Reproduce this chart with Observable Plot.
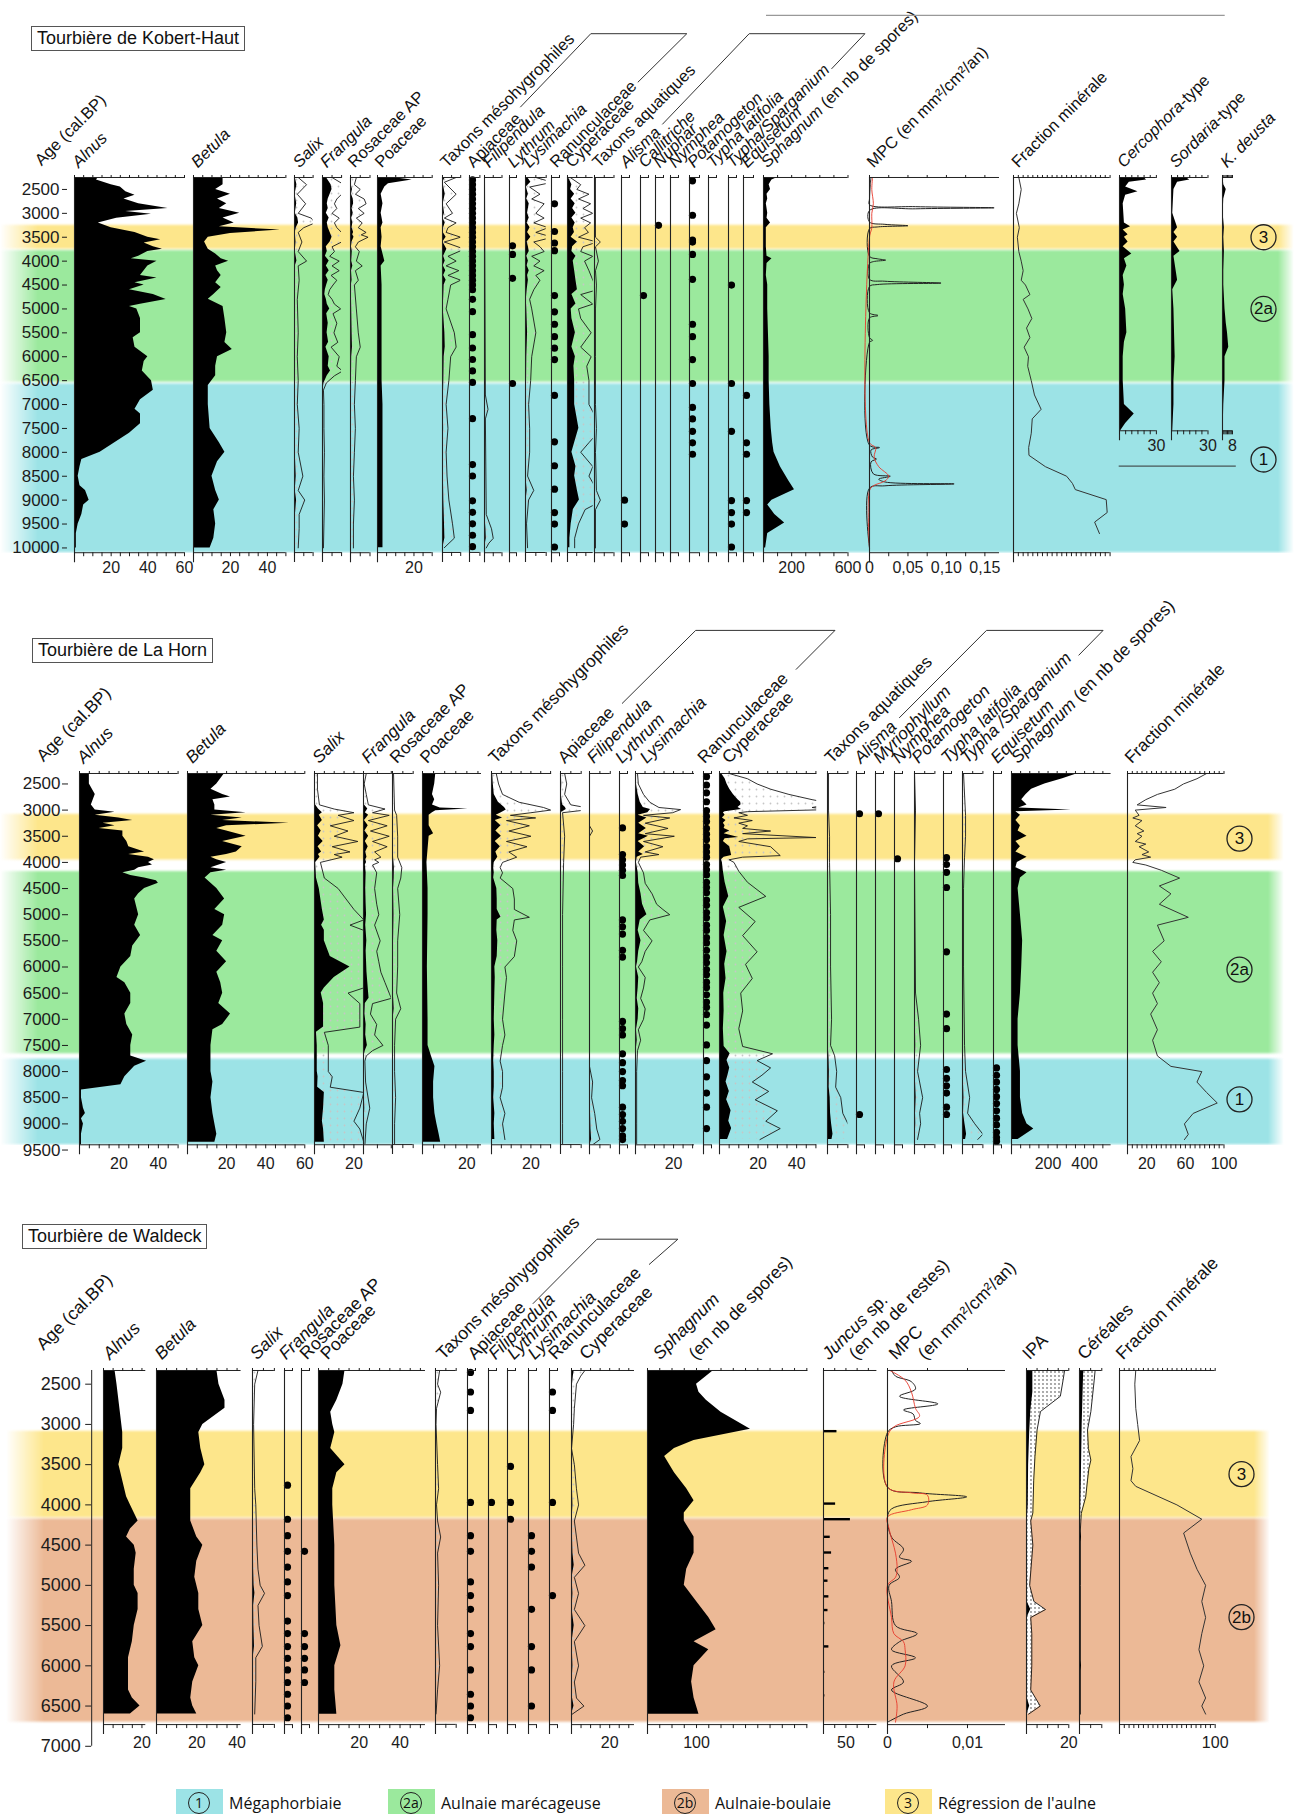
<!DOCTYPE html>
<html><head><meta charset="utf-8">
<script src="https://cdn.jsdelivr.net/npm/d3@7"></script>
<script src="https://cdn.jsdelivr.net/npm/@observablehq/plot@0.6"></script>
<style>
body{margin:0;background:#fff;}
#page{position:relative;width:1298px;height:1814px;overflow:hidden;background:#fff;font-family:Arial,"Liberation Sans",Helvetica,sans-serif;color:#111;}
.ttl{position:absolute;border:1px solid #555;font-size:18px;line-height:23px;padding:0 5px;background:#fff;white-space:nowrap;z-index:5;}
.lg{position:absolute;top:1789px;height:28px;font-family:"Open Sans",Arial,sans-serif;font-size:16px;}
.lgbox{position:absolute;top:0;width:47px;height:28px;}
.lgc{position:absolute;left:12px;top:3px;width:20px;height:20px;border:1.3px solid #222;border-radius:50%;font-size:14px;line-height:20px;text-align:center;}
.lgt{position:absolute;left:53px;top:3px;white-space:nowrap;}
</style></head><body><div id="page"></div>
<script>
// ================= DATA : Tourbière de Kobert-Haut =================
const KH_AGES = [2500,3000,3500,4000,4500,5000,5500,6000,6500,7000,7500,8000,8500,9000,9500,10000];
const KH_ZONES = [["3",3250,3750,3500],["2a",3780,6530,5000],["1",6570,10100,8150]];
const KH_ALNUS = [[2250,13],[2300,12],[2400,20],[2450,25],[2550,28],[2620,33],[2700,27],[2800,35],[2900,51],[2960,28],[3020,42],[3100,23],[3200,13],[3300,20],[3400,33],[3500,40],[3550,47],[3620,38],[3700,43],[3750,48],[3800,40],[3900,35],[3950,31],[4000,45],[4100,40],[4200,38],[4300,36],[4350,45],[4450,33],[4500,38],[4600,30],[4700,43],[4800,50],[4900,36],[4950,30],[5000,34],[5200,36],[5500,36],[5600,32],[5800,33],[6000,40],[6100,38],[6300,37],[6500,42],[6700,43],[6900,36],[7100,33],[7200,36],[7400,36],[7600,30],[7800,22],[8000,14],[8150,4],[8300,3],[8500,2],[8700,3],[8800,6],[9000,8],[9100,5],[9300,4],[9500,2],[9700,1],[10000,1]];
const KH_BETULA = [[2250,16],[2400,16],[2500,12],[2600,20],[2700,13],[2800,18],[2900,14],[3000,25],[3100,16],[3200,22],[3280,14],[3350,47],[3420,20],[3500,8],[3600,6],[3750,8],[3850,12],[3950,15],[4000,19],[4100,12],[4200,13],[4300,15],[4450,12],[4550,15],[4700,11],[4800,8],[4950,16],[5200,17],[5500,18],[5700,17],[5850,21],[6000,13],[6200,12],[6400,12],[6600,8],[7000,8],[7500,9],[7800,14],[8000,17],[8200,13],[8500,10],[8800,12],[9000,14],[9200,11],[9500,12],[9800,11],[10000,9]];
const KH_SALIX = [[2250,0.4],[2400,1.3],[2600,0.3],[2800,1.2],[3000,0.4],[3100,1.8],[3200,2.2],[3300,1.0],[3400,0.4],[3600,0.8],[3800,0.4],[4000,1.3],[4100,0.4],[4400,0.5],[4800,0.3],[5500,0.4],[6000,0.3],[6500,0.4],[7000,0.3],[7500,0.5],[8000,0.4],[8500,0.9],[8800,0.4],[9000,1.1],[9300,0.5],[9600,0.5],[10000,0.4]];
const KH_FRANGULA = [[2250,2],[2400,4.5],[2500,5],[2600,4],[2700,3],[2800,2.5],[2900,3],[3000,2],[3100,3.5],[3200,2.5],[3300,3],[3400,4],[3500,5],[3600,4],[3700,2],[3800,2.5],[3900,1.5],[4000,3.5],[4100,2],[4200,3.5],[4300,1.8],[4400,3],[4500,2.2],[4600,1.5],[4700,1.2],[4800,2],[4900,2.5],[5000,3.8],[5100,2.2],[5300,3],[5500,2.4],[5700,3.2],[5800,1.8],[6000,3.5],[6200,3],[6300,4.2],[6400,2.5],[6550,0.8],[6700,0.2],[7000,0.3],[7500,0.3],[8000,0.4],[8500,0.3],[9000,0.4],[9500,0.3],[10000,0.2]];
const KH_ROSACEAE = [[2250,0.6],[2400,0.4],[2500,1.0],[2600,0.5],[2700,1.4],[2800,1.6],[2900,0.8],[3000,1.4],[3100,0.6],[3200,1.2],[3300,0.8],[3400,1.6],[3450,1.1],[3500,1.8],[3600,0.8],[3700,0.5],[3800,0.9],[4000,0.6],[4100,1.2],[4200,0.5],[4400,0.8],[4500,0.4],[5000,0.6],[5500,0.8],[5800,1.0],[6000,0.6],[6500,0.5],[7000,0.4],[7500,0.5],[8000,0.4],[8500,0.3],[9000,0.4],[9500,0.3],[10000,0.3]];
const KH_POACEAE = [[2250,8],[2300,19],[2380,6],[2450,4],[2600,2],[2800,3],[3000,2],[3200,3],[3300,2],[3500,2.5],[3700,2],[4000,4],[4100,2],[4500,2.5],[5500,2.5],[6500,2.5],[7000,3],[8000,3],[9000,3],[10000,3]];
const KH_MESO = [[2250,1.5],[2350,0.2],[2600,1.5],[2800,0.4],[3000,1.1],[3100,0.2],[3200,1.5],[3300,0.6],[3400,0.4],[3500,2.0],[3600,0.2],[3750,2.4],[3900,0.6],[4000,1.5],[4100,0.4],[4200,1.8],[4300,0.6],[4400,2.0],[4500,0.9],[4800,0.6],[5000,0.4],[5500,1.3],[5800,1.5],[6000,0.9],[6500,0.7],[7000,0.4],[7500,0.6],[8000,0.4],[8500,0.5],[9000,0.7],[9500,1.1],[9800,1.3],[10000,0.2]];
const KH_APIACEAE = [2300,2400,2500,2600,2700,2800,2900,3000,3100,3200,3300,3400,3500,3600,3700,3800,3900,4000,4100,4200,4300,4400,4500,4600,4800,5060,5540,5820,6060,6300,6540,7300,8260,8500,9020,9260,9500,9740,9980];
const KH_FILIPENDULA = [[2250,0],[6800,0.1],[7100,0.4],[7300,0.1],[9300,0.2],[9600,0.8],[9800,1.0],[9900,0.5],[10000,0.2]];
const KH_LYTHRUM = [3680,3860,4360,6560];
const KH_LYSIMACHIA = [[2250,1.0],[2350,2.6],[2450,0.4],[2600,1.4],[2700,0.6],[2800,1.8],[3000,1.0],[3100,1.8],[3200,0.8],[3300,2.2],[3400,1.0],[3500,2.6],[3600,0.8],[3700,1.4],[3800,1.8],[3900,0.6],[4000,1.4],[4100,0.8],[4200,1.8],[4300,1.0],[4400,1.4],[4600,0.8],[4800,0.4],[5000,0.6],[5500,1.0],[6000,0.6],[6500,0.5],[7000,0.3],[7500,0.4],[8000,0.4],[8500,0.2],[8800,0.8],[9000,0.3],[9500,0.1],[10000,0.2]];
const KH_RANUNC = [2800,3380,3620,3780,4720,5060,5320,5580,5820,6060,6810,7780,8280,8770,9260,9500,9980];
const KH_CYPERACEAE = [[2250,0.5],[2400,2.4],[2500,1.7],[2600,3.9],[2700,2.0],[2800,4.2],[2900,2.8],[3000,4.6],[3100,2.4],[3200,4.2],[3300,3.1],[3400,3.8],[3500,2.0],[3600,5.4],[3700,2.8],[3800,2.4],[3900,4.6],[4000,3.1],[4200,3.9],[4400,4.6],[4600,5.4],[4700,2.4],[4900,4.6],[5000,2.0],[5200,2.4],[5500,4.3],[5800,2.4],[6000,4.3],[6200,3.5],[6500,3.9],[7000,3.9],[7500,6.2],[7800,3.9],[8000,2.4],[8300,4.6],[8500,3.9],[8800,5.4],[9000,6.5],[9200,3.2],[9500,2.0],[9800,1.3],[10000,1.3]];
const KH_AQUATIQUES = [[2250,0.1],[3500,0.1],[3600,0.6],[3700,0.1],[4000,0.4],[4200,0.1],[4500,0.2],[5000,0.1],[6000,0.1],[7000,0.1],[7500,0.2],[8000,0.1],[8800,0.2],[9000,0.6],[9200,0.1],[10000,0.1]];
const KH_ALISMA = [9000,9500];
const KH_CALLITRICHE = [4720];
const KH_NUPHAR = [3250];
const KH_NYMPHEA = [];
const KH_POTAMOGETON = [2320,3040,3560,3600,3860,4380,5320,5580,6060,6560,7060,7300,7560,7800,8040];
const KH_TYPHA_LAT = [];
const KH_TYPHA_SPARG = [4500,6560,7560,9010,9260,9500,9980];
const KH_EQUISETUM = [6810,7800,8040,9010,9260];
const KH_SPHAGNUM = [[2250,100],[2300,60],[2400,40],[2500,50],[2600,25],[2700,30],[2800,20],[2900,25],[3000,30],[3100,25],[3200,50],[3300,20],[3500,20],[3700,20],[3900,25],[3950,60],[4050,25],[4300,20],[4500,30],[5000,30],[5500,35],[6000,40],[6500,40],[7000,45],[7500,55],[7800,65],[8000,75],[8300,120],[8600,180],[8780,220],[9000,60],[9100,30],[9300,80],[9480,150],[9700,30],[10000,15]];
const KH_MPC = [[2250,0.002],[2400,0.001],[2700,0],[2820,0],[2860,0.06],[2884,0.162],[2905,0.06],[2940,0],[3180,0],[3230,0.02],[3259,0.05],[3285,0.01],[3320,0],[3900,0],[3950,0.01],[3979,0.021],[4010,0.005],[4050,0],[4380,0],[4420,0.02],[4459,0.093],[4490,0.01],[4530,0],[5080,0],[5138,0.011],[5190,0],[5600,0],[5658,0.004],[5700,0],[7850,0],[7900,0.013],[7950,0.002],[8100,0.004],[8140,0.009],[8200,0.002],[8450,0.005],[8500,0.027],[8560,0.012],[8620,0.02],[8660,0.11],[8700,0.02],[8750,0],[10000,0]];
const KH_MPC_RED = [[2250,0.004],[2500,0.003],[2800,0.005],[3000,0.003],[3300,0.003],[3500,0],[7800,0],[7900,0.008],[8100,0.006],[8300,0.012],[8500,0.025],[8600,0.02],[8700,0.005],[8800,0],[10000,0]];
const KH_MINERAL = [[2250,5.5],[2500,8],[2800,5.5],[3000,3],[3300,6],[3500,4],[3800,5.5],[4000,8],[4200,10],[4400,8],[4500,12.4],[4700,17],[4800,10],[5000,15],[5200,19],[5400,13.5],[5600,17],[5800,11],[6000,15.5],[6200,14.7],[6500,18.4],[6800,21.7],[7100,28.6],[7300,19.4],[7600,18.4],[7900,15.7],[8063,16],[8300,33],[8500,55],[8650,61],[8780,64],[8990,96],[9260,97],[9460,84],[9700,89]];
const KH_CERCO = [[2250,20],[2300,22],[2350,8],[2450,5],[2550,15],[2620,5],[2800,3],[3200,4],[3280,9],[3350,3],[3450,7],[3500,4],[3600,7],[3700,3],[3850,10],[3950,4],[4100,6],[4300,3],[4500,4],[4700,3],[5000,5],[5500,6],[5700,4],[6000,3],[6500,3],[7000,4],[7200,12],[7400,5],[7550,1]];
const KH_SORDA = [[2250,12],[2300,15],[2350,5],[2500,2],[3000,1],[3300,5],[3400,2],[3500,5],[3600,2],[3800,7],[3900,2],[4400,5],[4600,1],[5000,2],[6000,3],[6500,2],[7000,2],[7550,1]];
const KH_KDEUSTA = [[2250,0.5],[2400,1],[2500,3],[2700,1],[3000,0.5],[3300,1.5],[3500,1],[3800,1.5],[4200,1],[4500,1],[5000,2],[5300,3],[5500,4],[5800,5],[6000,2],[6500,2],[7000,1],[7550,0.5]];

// ================= DATA : Tourbière de La Horn =================
const LH_AGES = [2500,3000,3500,4000,4500,5000,5500,6000,6500,7000,7500,8000,8500,9000,9500];
const LH_ZONES = [["3",3080,3955,3546],["2a",4175,7660,6050],["1",7760,9400,8530]];
const LH_ALNUS = [[2300,5],[2500,5],[2700,8],[2900,6],[3000,8],[3040,18],[3100,8],[3150,20],[3200,27],[3250,12],[3300,18],[3350,10],[3400,22],[3500,22],[3600,24],[3700,25],[3800,33],[3850,25],[3900,35],[3950,38],[4000,35],[4050,37],[4100,30],[4150,28],[4200,22],[4250,26],[4300,33],[4350,39],[4400,40],[4500,33],[4600,30],[4700,28],[5000,30],[5200,28],[5400,31],[5600,27],[5800,26],[6000,21],[6200,19],[6300,23],[6500,26],[6700,26],[6900,23],[7100,24],[7300,27],[7500,26],[7700,26],[7800,34],[7900,28],[8100,23],[8250,21],[8350,1],[8500,1],[8700,2],[8800,3],[8900,1],[9000,2],[9200,1],[9400,1]];
const LH_BETULA = [[2300,19],[2400,17],[2500,15],[2600,12],[2700,18],[2750,22],[2800,13],[2900,14],[3000,14],[3050,30],[3100,12],[3150,28],[3200,18],[3250,52],[3300,20],[3350,15],[3400,20],[3500,30],[3600,18],[3700,28],[3800,25],[3850,20],[3900,12],[3950,15],[4000,20],[4100,12],[4150,20],[4200,12],[4300,9],[4500,15],[4700,19],[4900,14],[5000,19],[5200,18],[5400,13],[5500,18],[5700,15],[5900,20],[6100,15],[6300,17],[6500,18],[6700,16],[6900,22],[7100,18],[7200,13],[7500,12],[7700,12],[8000,12],[8200,13],[8500,12],[8800,13],[9000,14],[9200,15],[9350,14]];
const LH_SALIX = [[2300,0.3],[2600,0.3],[2900,0.5],[2980,2],[3050,4],[3100,2.4],[3200,4],[3300,1.6],[3400,3.4],[3500,2],[3600,4.4],[3700,1.8],[3800,3.6],[3850,2],[3900,2.8],[4000,0.6],[4300,1],[4500,2.4],[4700,3.2],[4900,4],[5100,5],[5200,3.6],[5300,5],[5500,5],[5800,8],[6000,18],[6200,10],[6400,5],[6500,3.4],[6700,4.6],[7000,4.6],[7150,4.6],[7250,1],[7500,1.4],[8000,1.4],[8100,1.8],[8300,1.6],[8400,5],[8700,4.6],[8950,4],[9100,4.6],[9350,5]];
const LH_FRANGULA = [[2300,0.2],[2500,0.05],[2700,0.2],[2900,0.35],[2980,1.55],[3050,0.65],[3100,1.85],[3200,0.35],[3300,1.7],[3400,0.5],[3500,1.85],[3600,0.65],[3700,1.7],[3800,0.8],[3900,1.25],[3950,0.8],[4000,1.1],[4050,0.65],[4200,0.95],[4500,0.8],[4800,0.95],[5000,1.1],[5200,0.8],[5500,1.2],[5700,0.95],[5900,1.1],[6100,1.25],[6300,1.55],[6500,1.85],[6600,2.0],[6700,0.65],[6900,0.5],[7100,0.95],[7300,0.8],[7500,1.4],[7600,0.65],[7700,0.2],[7800,0.1],[8200,0.15],[8700,0.45],[9000,0.2],[9400,0.1]];
const LH_ROSACEAE = [[2300,0.1],[3000,0.2],[3100,0.4],[3500,0.5],[3900,0.5],[4100,0.9],[4300,0.8],[4500,0.5],[5000,0.7],[5500,0.5],[6000,0.5],[6500,0.4],[6800,0.8],[7000,0.3],[7500,0.2],[8000,0.2],[8500,0.3],[9000,0.2],[9400,0.2]];
const LH_POACEAE = [[2300,6],[2500,5.5],[2700,4.5],[2800,5.5],[2900,4.5],[2960,8],[2980,20.5],[3010,6],[3050,4.5],[3100,3],[3300,3],[3450,5],[3500,3],[4000,2],[4500,2.5],[5000,2.5],[6000,2.2],[7000,2.5],[7500,2.5],[7700,4],[7900,5.6],[8200,5],[8500,5],[8800,5.6],[9000,6.5],[9200,7.5],[9350,8.2]];
const LH_MESO = [[2300,0.6],[2500,0.9],[2700,1.4],[2850,3.5],[2950,6.6],[3000,7.5],[3050,5],[3100,2.4],[3150,5.6],[3200,1.9],[3300,4.8],[3400,2.2],[3500,5],[3600,1.9],[3700,4.5],[3800,2.2],[3900,3.2],[4000,1.4],[4100,1.1],[4200,1.4],[4300,1.1],[4500,2.7],[4700,2.9],[4900,2.9],[5050,4.8],[5100,2.9],[5300,2.7],[5500,3.2],[5800,2.9],[6000,1.7],[6200,1.9],[6500,1.7],[7000,1.4],[7300,1.7],[7500,1.4],[7800,1.1],[8000,1.4],[8300,1.4],[8500,1.1],[8800,1.7],[9000,1.4],[9300,1.7]];
const LH_APIACEAE = [[2300,0.4],[2500,0.6],[2700,0.4],[2900,1.0],[2950,2.4],[2990,2.8],[3050,0.2],[3500,0.4],[4000,0.3],[5000,0.2],[6000,0.2],[7000,0.2],[8000,0.2],[9000,0.2],[9400,0.2]];
const LH_FILIPENDULA = [[2300,0],[3300,0],[3400,0.3],[3500,0],[7900,0],[8200,0.3],[8500,0.2],[8800,0.5],[9100,0.7],[9300,1.0],[9400,0.3]];
const LH_LYTHRUM = [3340,3850,3950,4050,4150,4250,5100,5230,5370,5680,5810,7040,7180,7300,7660,7830,8000,8170,8270,8680,8820,8950,9090,9230,9300];
const LH_LYSIMACHIA = [[2300,0.35],[2500,0.5],[2700,1.4],[2850,2.5],[2950,4.1],[2990,7.9],[3050,6.5],[3100,1.4],[3150,6],[3250,1.7],[3350,5.7],[3450,1.7],[3500,6.8],[3600,1.4],[3700,4.8],[3800,1.7],[3850,4.1],[3900,0.9],[4000,0.5],[4200,1.4],[4400,1.7],[4600,2.9],[4800,3.7],[4900,4.8],[5000,6],[5100,2.5],[5300,1.4],[5500,2.9],[5700,1.7],[5900,1.1],[6000,0.5],[6200,1.7],[6400,1.4],[6600,0.9],[6800,1.7],[7000,1.4],[7200,0.5],[7400,0.9],[7600,0.35],[8000,0.2],[9000,0.2],[9400,0.2]];
const LH_RANUNC = [2360,2520,2670,2840,3010,3120,3220,3350,3460,3560,3700,3800,3900,4040,4140,4240,4380,4480,4580,4720,4820,4960,5060,5200,5300,5440,5540,5680,5810,5920,6050,6150,6290,6390,6530,6670,6770,6910,7110,7490,7790,8100,8410,8680,9090];
const LH_CYPERACEAE = [[2300,1],[2400,2.9],[2500,3.9],[2600,5.3],[2700,7.2],[2800,9.6],[2850,11],[2900,11.2],[2950,9.6],[2990,11.4],[3030,2.9],[3050,2],[3100,2.9],[3150,1.5],[3200,3.4],[3250,2],[3300,2.9],[3350,2.4],[3400,5.3],[3450,2.4],[3525,10],[3550,2.9],[3600,2],[3700,5.3],[3870,6.3],[3900,2.4],[3950,1],[4000,1.5],[4170,2],[4380,2.9],[4650,4.8],[4860,2],[5130,3.7],[5400,2.4],[5710,3.9],[5950,2.7],[6220,3.4],[6500,2.2],[6840,2.4],[7180,2],[7520,2.4],[7660,5.5],[7790,3.9],[7930,5.3],[8070,4.4],[8200,3.4],[8380,5.1],[8540,3.7],[8750,6],[8950,4.8],[9090,6.3],[9300,4.2]];
const LH_AQUATIQUES = [[2300,0.1],[3000,0.1],[3500,0.2],[4000,0.2],[5000,0.3],[6000,0.3],[7000,0.4],[7500,0.3],[7700,0.7],[8000,0.9],[8300,0.8],[8500,1.3],[8800,1.5],[9000,2.0],[9200,2.7],[9300,2.2]];
const LH_ALISMA = [3070,8820];
const LH_MYRIO = [3070];
const LH_NYMPHEA = [3930];
const LH_POTAMOGETON = [[2300,0],[3000,0.1],[4000,0],[6500,0.1],[7000,0.4],[7500,0.6],[8000,0.3],[8500,0.8],[8800,0.5],[9000,0.6],[9300,0.3]];
const LH_TYPHA_LAT = [3910,4040,4190,4480,5710,6900,7180,7960,8130,8270,8410,8680,8820];
const LH_TYPHA_SPARG = [[2300,0.1],[3100,0.3],[3500,0.3],[3900,0.2],[4500,0.1],[6000,0.1],[7500,0.2],[8000,0.3],[8500,0.7],[8800,0.5],[9000,1.2],[9200,2.0],[9300,1.5]];
const LH_EQUISETUM = [7930,8070,8200,8340,8480,8610,8750,8890,9020,9160,9260,9330];
const LH_SPHAGNUM = [[2300,365],[2400,280],[2500,182],[2600,110],[2700,80],[2800,56],[2900,85],[2960,40],[3000,328],[3030,24],[3100,49],[3200,24],[3300,49],[3400,36],[3500,85],[3600,24],[3700,49],[3800,24],[3900,85],[4000,32],[4100,24],[4200,85],[4300,49],[4500,36],[5000,49],[5500,61],[6000,56],[6500,49],[7000,36],[7500,36],[8000,49],[8500,49],[8800,61],[9000,85],[9100,122],[9300,36]];
const LH_MINERAL = [[2300,82],[2400,72],[2500,58],[2600,49],[2700,31],[2800,19],[2900,10],[2950,40],[3000,8],[3100,12],[3150,5.5],[3200,15],[3300,8],[3400,17],[3450,10],[3500,15],[3600,8],[3650,19],[3700,12],[3800,22],[3850,15],[3900,24],[3950,8],[4000,5.5],[4050,19],[4150,35],[4300,54],[4450,33],[4600,45],[4800,33],[5050,63],[5200,31],[5500,38],[5700,26],[5900,35],[6100,26],[6300,33],[6500,26],[6700,31],[6900,24],[7200,31],[7400,26],[7700,31],[7900,45],[8000,77],[8200,72],[8400,82],[8600,93],[8800,68],[9000,59],[9200,63],[9300,59]];

// ================= DATA : Tourbière de Waldeck =================
const W_AGES = [2500,3000,3500,4000,4500,5000,5500,6000,6500,7000];
const W_ZONES = [["3",3085,4160,3618],["2b",4175,6700,5395]];
const W_ALNUS = [[2330,6],[2500,7],[2700,8],[2900,9],[3100,10],[3300,10],[3500,8],[3700,10],[3900,12],[4000,14],[4100,16],[4200,18],[4300,14],[4400,12],[4500,16],[4600,17],[4800,16],[5000,16],[5100,18],[5300,18],[5500,16],[5700,15],[5900,13],[6100,13],[6300,13],[6400,15],[6500,19],[6600,14]];
const W_BETULA = [[2330,30],[2500,31],[2700,34],[2800,34],[3000,23],[3100,21],[3300,22],[3500,24],[3600,22],[3800,17],[4000,17],[4200,17],[4400,20],[4500,23],[4700,20],[4900,19],[5100,21],[5300,21],[5500,23],[5700,18],[5900,19],[6000,21],[6200,18],[6400,17],[6500,18],[6600,20]];
const W_SALIX = [[2330,0.5],[2500,0.2],[3000,0.1],[3800,0.2],[4000,0.3],[4500,0.4],[4800,0.5],[5000,0.7],[5100,1.1],[5250,0.5],[5500,0.6],[5760,0.9],[5900,0.3],[6200,0.3],[6600,0.2]];
const W_FRANGULA = [3755,4178,4383,4577,4772,4957,5127,5443,5599,5760,5906,6051,6207,6353,6499,6645];
const W_ROSACEAE = [4577,5599,5760,5906,6051,6207];
const W_POACEAE = [[2330,13],[2500,12],[2700,9],[2850,6],[3000,7],[3100,8],[3200,7],[3300,6],[3500,13],[3600,9],[3800,7],[4000,7],[4500,8],[5000,8],[5500,9],[5750,11],[6000,8],[6300,8],[6600,9]];
const W_MESO = [[2330,0.4],[2500,0.2],[2600,0.5],[2800,0.1],[3000,0.05],[3500,0.2],[3800,0.3],[4000,0.1],[4200,0.2],[4400,0.5],[4600,0.2],[5000,0.3],[5500,0.2],[6000,0.4],[6300,0.2],[6600,0.05]];
const W_APIACEAE = [2354,2597,2826,3969,4383,4577,4957,5127,5297,5599,5760,6051,6353,6499,6645];
const W_FILIPENDULA = [3969];
const W_LYTHRUM = [3522,3969,4178];
const W_LYSIMACHIA = [4383,4577,4772,5297,5760,6051,6499];
const W_RANUNC = [2597,2826,3969,5127];
const W_CYPERACEAE = [[2330,1.4],[2400,0.96],[2500,0.52],[2800,0.3],[3000,0.22],[3300,0],[3500,0.3],[3800,0.52],[4000,0.74],[4200,0.3],[4400,0.52],[4600,0.74],[4750,1.4],[4900,0.3],[5100,0.74],[5300,0.3],[5500,1.4],[5700,0.3],[6000,0.74],[6200,0.3],[6400,0.52],[6500,1.3],[6600,0.08]];
const W_SPHAGNUM = [[2330,135],[2500,100],[2600,105],[2700,120],[2850,150],[3060,210],[3200,95],[3300,55],[3400,35],[3600,55],[3800,80],[3950,95],[4100,75],[4200,75],[4400,95],[4600,95],[4800,80],[5000,75],[5200,100],[5400,125],[5550,140],[5700,95],[5800,125],[6000,95],[6200,90],[6400,95],[6600,105]];
const W_JUNCUS = [[3084,30],[3984,27],[4178,60],[4397,15],[4592,18],[4787,12],[4942,10],[5137,12],[5307,10],[5468,3],[5759,12],[6076,3],[6368,3]];
const W_MPC = [[2330,0.0005],[2400,0.001],[2470,0.003],[2560,0.0035],[2650,0.0015],[2745,0.0063],[2820,0.002],[2870,0.0032],[2950,0.0035],[2990,0.0041],[3030,0.001],[3100,0],[3780,0],[3850,0.004],[3900,0.0099],[3960,0.005],[4050,0.0005],[4150,0],[4400,0.0005],[4550,0.002],[4650,0.0015],[4700,0.003],[4800,0.001],[4900,0.0015],[5000,0.0002],[5200,0.0005],[5500,0.001],[5600,0.0037],[5700,0.0015],[5800,0.0005],[5900,0.0035],[6000,0.0005],[6200,0.002],[6300,0.0005],[6500,0.005],[6600,0.002],[6700,0]];
const W_MPC_RED = [[2330,0.0003],[2450,0.0022],[2600,0.003],[2800,0.0035],[2900,0.004],[3030,0.0008],[3150,0],[3780,0],[3850,0.003],[3880,0.005],[4000,0.005],[4060,0.003],[4150,0],[4300,0.0002],[4600,0.001],[4800,0.0012],[4900,0.001],[5000,0],[5400,0.0005],[5600,0.0008],[5700,0.002],[5800,0.0022],[6000,0.0022],[6200,0.0008],[6500,0.0012],[6700,0.001]];
const W_IPA_TOTAL = [[2330,18],[2450,17.3],[2650,16],[2840,6.6],[3070,5],[3400,4],[3700,3.4],[4100,3],[4200,2],[4500,3],[5000,1.5],[5200,3.5],[5300,9],[5400,2],[5600,2.5],[6000,2.5],[6300,2],[6500,6.5],[6600,1]];
const W_IPA_BLACK = [[2330,3],[2600,3],[2840,2],[3100,1.5],[3500,1],[4000,0.8],[4200,0.3],[5200,0.3],[5300,2],[5400,0.3],[6400,0.3],[6500,1.5],[6600,0.3]];
const W_CEREALES_TOTAL = [[2330,7],[2450,6.6],[2840,5.1],[3070,3.6],[3300,4],[3443,5.1],[3550,4.2],[3692,3.6],[3900,2.8],[4106,0.8],[4300,0.4],[5000,0.4],[6600,0.4]];
const W_CEREALES_BLACK = [[2330,1.9],[2600,1.6],[3000,1.2],[3700,0.8],[4100,0.5],[4300,0.2],[4400,0.9],[4500,0.2],[5900,0.2],[6000,0.9],[6100,0.2],[6600,0.2]];
const W_MINERAL = [[2330,17],[2500,16],[2800,17],[3000,19],[3200,21],[3400,12],[3550,14],[3700,12],[3770,17],[4000,60],[4178,86],[4350,67],[4600,74],[4800,81],[5000,90],[5200,86],[5400,90],[5600,86],[5800,83],[6000,88],[6200,83],[6400,90],[6500,86],[6600,90]];

// ================= LAYOUT =================
const KH_PANELS = [
 {h:"*Alnus*", x:73.8, w:110, type:"area", max:60, data:KH_ALNUS, labels:[20,40,60]},
 {h:"*Betula*", x:192.8, w:92.4, type:"area", max:50, data:KH_BETULA, labels:[20,40]},
 {h:"*Salix*", x:294.4, w:18.6, type:"ex", max:10, k:5, data:KH_SALIX},
 {h:"*Frangula*", x:321.7, w:19.1, type:"ex", max:10, k:2.5, data:KH_FRANGULA},
 {h:"Rosaceae AP", x:349.5, w:19.5, type:"ex", max:10, k:5, data:KH_ROSACEAE},
 {h:"Poaceae", x:376.5, w:54.7, type:"area", max:30, data:KH_POACEAE, labels:[20]},
 {h:"Taxons mésohygrophiles", x:442, w:18.2, type:"ex", max:10, k:5, data:KH_MESO},
 {h:"Apiaceae", x:468.5, w:10.4, type:"dots", data:KH_APIACEAE},
 {h:"*Filipendula*", x:484.2, w:17.5, type:"ex", max:10, k:5, data:KH_FILIPENDULA},
 {h:"*Lythrum*", x:509.1, w:7, type:"dots", data:KH_LYTHRUM},
 {h:"*Lysimachia*", x:524.5, w:20.7, type:"ex", max:10, k:5, data:KH_LYSIMACHIA},
 {h:"Ranunculaceae", x:551.4, w:8, type:"dots", data:KH_RANUNC},
 {h:"Cyperaceae", x:567.2, w:25.7, type:"ex", max:14, k:3, data:KH_CYPERACEAE},
 {h:"Taxons aquatiques", x:594.1, w:19.5, type:"ex", max:10, k:5, data:KH_AQUATIQUES},
 {h:"*Alisma*", x:621.4, w:8, type:"dots", data:KH_ALISMA},
 {h:"*Callitriche*", x:640, w:8, type:"dots", data:KH_CALLITRICHE},
 {h:"*Nuphar*", x:654.8, w:8, type:"dots", data:KH_NUPHAR},
 {h:"*Nymphea*", x:670.3, w:8, type:"dots", data:KH_NYMPHEA},
 {h:"*Potamogeton*", x:689, w:10, type:"dots", data:KH_POTAMOGETON},
 {h:"*Typha latifolia*", x:708.2, w:8, type:"dots", data:KH_TYPHA_LAT},
 {h:"*Typha/Sparganium*", x:727.8, w:8, type:"dots", data:KH_TYPHA_SPARG},
 {h:"*Equisetum*", x:742.5, w:10, type:"dots", data:KH_EQUISETUM},
 {h:"*Sphagnum* (en nb de spores)", x:762.5, w:84.5, type:"area", max:600, step:100, data:KH_SPHAGNUM, labels:[200,600]},
 {h:"MPC (en mm²/cm²/an)", x:868.5, w:130, type:"mpc", max:0.169, step:0.025, data:KH_MPC, red:KH_MPC_RED, labels:[0,0.05,0.10,0.15], dec:true},
 {h:"Fraction minérale", x:1013.2, w:96.6, type:"line", max:100, data:KH_MINERAL},
 {h:"*Cercophora*-type", x:1118.7, w:36.9, type:"area", max:30, bottom:7550, data:KH_CERCO, labels:[30]},
 {h:"*Sordaria*-type", x:1171.2, w:36.5, type:"area", max:30, bottom:7550, data:KH_SORDA, labels:[30]},
 {h:"*K. deusta*", x:1222, w:10, type:"area", max:8, step:1, bottom:7550, data:KH_KDEUSTA, labels:[8]}
];
const LH_PANELS = [
 {h:"*Alnus*", x:78.8, w:98.6, type:"area", max:50, data:LH_ALNUS, labels:[20,40]},
 {h:"*Betula*", x:187.4, w:117.3, type:"area", max:60, data:LH_BETULA, labels:[20,40,60]},
 {h:"*Salix*", x:314.3, w:48.9, type:"ex", max:24.8, k:5, data:LH_SALIX, labels:[20]},
 {h:"*Frangula*", x:363.2, w:27.8, type:"ex", max:10, k:5, data:LH_FRANGULA},
 {h:"Rosaceae AP", x:391.8, w:20.7, type:"ex", max:10, k:5, data:LH_ROSACEAE},
 {h:"Poaceae", x:422, w:59, type:"area", max:26.6, data:LH_POACEAE, labels:[20]},
 {h:"Taxons mésohygrophiles", x:490.5, w:60.1, type:"ex", max:30.5, k:4, data:LH_MESO, labels:[20]},
 {h:"Apiaceae", x:559.7, w:20.7, type:"ex", max:10, k:5, data:LH_APIACEAE},
 {h:"*Filipendula*", x:588.7, w:20.8, type:"ex", max:10, k:5, data:LH_FILIPENDULA},
 {h:"*Lythrum*", hx:622, x:618.6, w:8, type:"dots", data:LH_LYTHRUM},
 {h:"*Lysimachia*", hx:646.7, x:634.7, w:59, type:"ex", max:31, k:3, data:LH_LYSIMACHIA, labels:[20]},
 {h:"Ranunculaceae", hx:704.6, x:703.3, w:8, type:"dots", data:LH_RANUNC},
 {h:"Cyperaceae", hx:729, x:719, w:97.2, type:"ex", max:50.4, k:5, data:LH_CYPERACEAE, labels:[20,40]},
 {h:"Taxons aquatiques", x:826.7, w:20.4, type:"ex", max:10, k:5, data:LH_AQUATIQUES},
 {h:"*Alisma*", x:856, w:8, type:"dots", data:LH_ALISMA},
 {h:"*Myriophyllum*", x:875, w:8, type:"dots", data:LH_MYRIO},
 {h:"*Nymphea*", x:893.9, w:8, type:"dots", data:LH_NYMPHEA},
 {h:"*Potamogeton*", x:913.6, w:20.4, type:"ex", max:10, k:5, data:LH_POTAMOGETON},
 {h:"*Typha latifolia*", x:943, w:8, type:"dots", data:LH_TYPHA_LAT},
 {h:"*Typha /Sparganium*", x:962.3, w:20.4, type:"ex", max:10, k:5, data:LH_TYPHA_SPARG},
 {h:"*Equisetum*", x:992.5, w:8, type:"dots", data:LH_EQUISETUM},
 {h:"*Sphagnum* (en nb de spores)", hx:1018, x:1011.4, w:99.6, type:"area", max:545, step:50, data:LH_SPHAGNUM, labels:[200,400]},
 {h:"Fraction minérale", x:1126.8, w:96.5, type:"line", max:100, data:LH_MINERAL, labels:[20,60,100]}
];
const W_PANELS = [
 {h:"*Alnus*", hx:110, x:102.8, w:42.3, type:"area", max:22, data:W_ALNUS, labels:[20]},
 {h:"*Betula*", hx:161.7, x:155.9, w:84.6, type:"area", max:42, data:W_BETULA, labels:[20,40]},
 {h:"*Salix*", hx:257, x:251.7, w:21.9, type:"ex", max:10, k:5, data:W_SALIX},
 {h:"*Frangula*", hx:286, x:284, w:8, type:"dots", data:W_FRANGULA},
 {h:"Rosaceae AP", hx:306.8, x:300.6, w:8, type:"dots", data:W_ROSACEAE},
 {h:"Poaceae", hx:327.5, x:318, w:107, type:"area", max:52.5, data:W_POACEAE, labels:[20,40]},
 {h:"Taxons mésohygrophiles", hx:443.6, x:435.3, w:20.7, type:"ex", max:10, k:5, data:W_MESO},
 {h:"Apiaceae", hx:474.7, x:467.2, w:8, type:"dots", data:W_APIACEAE},
 {h:"*Filipendula*", hx:495.4, x:488, w:8, type:"dots", data:W_FILIPENDULA},
 {h:"*Lythrum*", hx:514, x:506.6, w:8, type:"dots", data:W_LYTHRUM},
 {h:"*Lysimachia*", hx:534.8, x:527.8, w:8, type:"dots", data:W_LYSIMACHIA},
 {h:"Ranunculaceae", hx:555.6, x:549.3, w:8, type:"dots", data:W_RANUNC},
 {h:"Cyperaceae", hx:586.6, x:571.3, w:63, type:"ex", max:33, k:5, data:W_CYPERACEAE, labels:[20]},
 {h:"*Sphagnum*", hx:660.1, h2:"(en nb de spores)", h2x:695.7, x:646.7, w:160.3, type:"area", max:327, step:25, data:W_SPHAGNUM, labels:[100]},
 {h:"*Juncus* sp.", hx:829.3, h2:"(en nb de restes)", h2x:856, x:822.6, w:53.4, type:"bars", max:119, step:25, data:W_JUNCUS, labels:[50]},
 {h:"MPC", hx:896, h2:"(en mm²/cm²/an)", h2x:925, x:887.2, w:118, type:"mpc", max:0.01475, step:0.005, data:W_MPC, red:W_MPC_RED, labels:[0,0.01], dec:true},
 {h:"IPA", hx:1029.6, x:1026.1, w:42.3, type:"stip", max:20, data:W_IPA_TOTAL, black:W_IPA_BLACK, labels:[20]},
 {h:"Céréales", hx:1084.4, x:1078.6, w:22.3, type:"stip", max:10, data:W_CEREALES_TOTAL, black:W_CEREALES_BLACK},
 {h:"Fraction minérale", hx:1123, x:1118.7, w:95.7, type:"line", max:100, data:W_MINERAL, labels:[100]}
];
const SECTIONS = [
 {title:"Tourbière de Kobert-Haut", tx:31, ty:26, a0:2500, y0:189.4, ppy:0.0478, top:2250, bottom:10100, ageBottom:10000, ages:KH_AGES, ageX:67, ageTick:5, agePad:3, ageFs:17, lo:9, hy:168.4, hfs:16.5, ahx:41.5, ahy:166.5, zones:KH_ZONES, zx:1263, bandX:0, bandW:1294, panels:KH_PANELS},
 {title:"Tourbière de La Horn", tx:32, ty:638, a0:2500, y0:783.9, ppy:0.0523, top:2300, bottom:9400, ageBottom:9500, ages:LH_AGES, ageX:68, ageTick:6, agePad:2, ageFs:17, lo:13, hy:764.3, hfs:17.2, ahx:43.5, ahy:762.5, zones:LH_ZONES, zx:1239, bandX:0, bandW:1284, panels:LH_PANELS},
 {title:"Tourbière de Waldeck", tx:22, ty:1224, a0:2500, y0:1384, ppy:0.08048, top:2330, bottom:6730, ageBottom:7000, ageLine:true, ages:W_AGES, ageX:91.2, ageTick:6, agePad:5, ageFs:18, lo:12, hy:1360.5, hfs:17.6, ahx:43.5, ahy:1351, zones:W_ZONES, zx:1241, bandX:6, bandW:1264, panels:W_PANELS}
];
const BRACKETS = [
 [[520.3,107.2],[590.8,33.7],[686.8,33.7],[637.8,82.3]],
 [[662.3,124.4],[749.2,33.7],[864.9,33.7],[831.5,68.9]],
 [[1118.7,466.1],[1235.8,466.1]],
 [[622,703.6],[695.7,630.4],[835,630.4],[795.9,669.6]],
 [[899.2,717.9],[986.5,630.4],[1103.1,630.4],[1078.6,655.4]],
 [[532.8,1303.8],[597,1239.2],[677.9,1239.2],[649,1264.6]]
];
const GRAY_LINES = [[[766,15.3],[1224.7,15.3]]];
const LEGEND = [["1","Mégaphorbiaie",176],["2a","Aulnaie marécageuse",388],["2b","Aulnaie-boulaie",662],["3","Régression de l'aulne",885]];

// ================= RENDER =================
const FONT = "Arial, 'Liberation Sans', Helvetica, sans-serif";
const COLORS = {"1":"#9ce3e6","2a":"#9be99d","2b":"#ecb996","3":"#fde68b"};
const page = document.getElementById("page");
const BASE = {background:"transparent", overflow:"visible", fontFamily:FONT, fontSize:"16px", color:"#1c1c1c"};
const yOf = (s, a) => s.y0 + (a - s.a0) * s.ppy;
const fmtDec = d => d === 0 ? "0" : d.toFixed(2).replace(".", ",");
let uid = 0;
function place(el, x, y, z) {
  el.style.position = "absolute"; el.style.left = x + "px"; el.style.top = y + "px";
  if (z != null) el.style.zIndex = z;
  page.appendChild(el); return el;
}
function addPatterns(svg, id) {
  const defs = d3.select(svg).insert("defs", ":first-child");
  const p1 = defs.append("pattern").attr("id", id + "d").attr("width", 7).attr("height", 7).attr("patternUnits", "userSpaceOnUse");
  p1.append("circle").attr("cx", 3.5).attr("cy", 3.5).attr("r", 0.9).attr("fill", "#c6c6c6");
  const p2 = defs.append("pattern").attr("id", id + "s").attr("width", 4).attr("height", 4).attr("patternUnits", "userSpaceOnUse");
  p2.append("rect").attr("width", 4).attr("height", 4).attr("fill", "#fff");
  p2.append("circle").attr("cx", 2).attr("cy", 2).attr("r", 0.65).attr("fill", "#111");
}
function renderPanel(s, p) {
  const top = p.top ?? s.top, bot = p.bottom ?? s.bottom;
  const mt = 8, mb = 44, ml = 1, mr = 1;
  const ih = (bot - top) * s.ppy;
  const id = "pp" + (uid++);
  const isDots = p.type === "dots";
  const max = isDots ? p.w : p.max;
  const step = isDots ? p.w : (p.step ?? 5);
  const ticks = d3.range(0, max + step * 1e-6, step);
  const ya = d => d[0], xv = d => d[1];
  const ln = {stroke: "#1a1a1a", strokeWidth: 0.9};
  const marks = [];
  if (p.type === "area") marks.push(Plot.areaX(p.data, {y: ya, x: xv, fill: "#000"}));
  if (p.type === "ex") {
    marks.push(Plot.areaX(p.data, {y: ya, x1: xv, x2: d => d[1] * p.k, fill: `url(#${id}d)`, clip: true}));
    marks.push(Plot.areaX(p.data, {y: ya, x: xv, fill: "#000", clip: true}));
    marks.push(Plot.lineX(p.data, {y: ya, x: d => d[1] * p.k, ...ln, clip: true}));
  }
  if (p.type === "line") marks.push(Plot.lineX(p.data, {y: ya, x: xv, stroke: "#333", strokeWidth: 1}));
  if (p.type === "mpc") {
    marks.push(Plot.lineX(p.data, {y: ya, x: xv, curve: "catmull-rom", stroke: "#222", strokeWidth: 1}));
    marks.push(Plot.lineX(p.red, {y: ya, x: xv, curve: "catmull-rom", stroke: "#e8392b", strokeWidth: 0.9}));
  }
  if (p.type === "bars") marks.push(Plot.ruleY(p.data, {y: ya, x1: 0, x2: xv, stroke: "#000", strokeWidth: 2.4}));
  if (p.type === "stip") {
    marks.push(Plot.areaX(p.data, {y: ya, x: xv, fill: `url(#${id}s)`}));
    marks.push(Plot.lineX(p.data, {y: ya, x: xv, stroke: "#111", strokeWidth: 0.9}));
    marks.push(Plot.areaX(p.black, {y: ya, x: xv, fill: "#000"}));
  }
  if (isDots) marks.push(Plot.dot(p.data, {y: d => d, frameAnchor: "left", dx: 3, r: 3.6, fill: "#000"}));
  marks.push(Plot.ruleY([top], {stroke: "#222", strokeWidth: 1}));
  marks.push(Plot.ruleY([bot], {stroke: "#222", strokeWidth: 1}));
  marks.push(Plot.ruleX([0], {stroke: "#222", strokeWidth: 1.1, insetBottom: -10}));
  marks.push(Plot.axisX({anchor: "top", ticks, tickSize: 3, tickFormat: () => ""}));
  marks.push(Plot.axisX({anchor: "bottom", ticks, tickSize: 4, tickFormat: () => ""}));
  if (p.labels) marks.push(Plot.axisX({anchor: "bottom", ticks: p.labels, tickSize: 0, tickPadding: s.lo, fontSize: 16, tickFormat: p.dec ? fmtDec : (d => String(d))}));
  const svg = Plot.plot({
    width: p.w + ml + mr, height: ih + mt + mb,
    marginTop: mt, marginBottom: mb, marginLeft: ml, marginRight: mr,
    x: {domain: [0, max], axis: null},
    y: {domain: [top, bot], reverse: true, axis: null},
    style: BASE, marks
  });
  addPatterns(svg, id);
  place(svg, p.x - ml, yOf(s, top) - mt, 2);
}
function renderAge(s) {
  const top = s.top, bot = s.ageBottom;
  const mt = 10, mb = 12;
  const svg = Plot.plot({
    width: s.ageX + 4, height: (bot - top) * s.ppy + mt + mb,
    marginLeft: s.ageX, marginRight: 4, marginTop: mt, marginBottom: mb,
    x: {domain: [0, 1], axis: null}, y: {domain: [top, bot], reverse: true},
    style: BASE,
    marks: [
      Plot.axisY({anchor: "left", ticks: s.ages, tickSize: s.ageTick, tickPadding: s.agePad, fontSize: s.ageFs, tickFormat: d => String(d)}),
      s.ageLine ? Plot.ruleX([0], {stroke: "#222"}) : null
    ]
  });
  place(svg, 0, yOf(s, top) - mt, 3);
}
function renderBands(s) {
  const h = (s.bottom - s.top) * s.ppy;
  const svg = Plot.plot({
    width: s.bandW, height: h, margin: 0,
    x: {domain: [0, 1], axis: null}, y: {domain: [s.top, s.bottom], reverse: true, axis: null},
    color: {type: "identity"}, style: {...BASE, overflow: "hidden"},
    marks: [Plot.rect(s.zones, {x1: 0, x2: 1, y1: d => d[1], y2: d => d[2], fill: d => COLORS[d[0]]})]
  });
  const m = "linear-gradient(to right, transparent 0px, #000 38px, #000 calc(100% - 16px), transparent 100%)";
  svg.style.maskImage = m; svg.style.webkitMaskImage = m; svg.style.filter = "blur(1.3px)";
  place(svg, s.bandX, yOf(s, s.top), 0);
}
function renderZoneLabels(s) {
  const mt = 20, h = (s.bottom - s.top) * s.ppy;
  const svg = Plot.plot({
    width: 36, height: h + 2 * mt, marginTop: mt, marginBottom: mt, marginLeft: 0, marginRight: 0,
    y: {domain: [s.top, s.bottom], reverse: true, axis: null}, style: BASE,
    marks: [
      Plot.dot(s.zones, {y: d => d[3], r: 12.5, stroke: "#222", strokeWidth: 1.3, fill: "none"}),
      Plot.text(s.zones, {y: d => d[3], text: d => d[0], fontSize: 17, fill: "#111"})
    ]
  });
  place(svg, s.zx - 18, yOf(s, s.top) - mt, 4);
}
function segs(spec) { return spec.split("*").map((t, i) => [t, i % 2 === 1]).filter(d => d[0].length); }
function header(ov, x, y, spec, fs) {
  const t = ov.append("text").attr("transform", `translate(${x},${y}) rotate(-45)`).attr("font-size", fs).attr("fill", "#111");
  segs(spec).forEach(([txt, it]) => t.append("tspan").attr("font-style", it ? "italic" : null).text(txt));
}

SECTIONS.forEach(s => {
  renderBands(s);
  renderAge(s);
  s.panels.forEach(p => renderPanel(s, p));
  renderZoneLabels(s);
  const t = document.createElement("div"); t.className = "ttl"; t.textContent = s.title;
  place(t, s.tx, s.ty, 5);
});

const ov = d3.select(page).append("svg").attr("width", 1298).attr("height", 1814)
  .style("position", "absolute").style("left", "0px").style("top", "0px").style("z-index", 6)
  .style("pointer-events", "none").style("font-family", FONT);
SECTIONS.forEach(s => {
  header(ov, s.ahx, s.ahy, "Age (cal.BP)", s.hfs);
  s.panels.forEach(p => {
    header(ov, p.hx ?? p.x + 5, s.hy, p.h, s.hfs);
    if (p.h2) header(ov, p.h2x, s.hy, p.h2, s.hfs);
  });
});
const lineGen = d3.line();
BRACKETS.forEach(b => ov.append("path").attr("d", lineGen(b)).attr("fill", "none").attr("stroke", "#333").attr("stroke-width", 1));
GRAY_LINES.forEach(b => ov.append("path").attr("d", lineGen(b)).attr("fill", "none").attr("stroke", "#999").attr("stroke-width", 1.2));

LEGEND.forEach(([k, txt, x]) => {
  const g = document.createElement("div"); g.className = "lg"; g.style.left = x + "px";
  g.innerHTML = `<div class="lgbox" style="background:${COLORS[k]}"><div class="lgc">${k}</div></div><div class="lgt">${txt}</div>`;
  page.appendChild(g);
});
</script>
</body></html>
